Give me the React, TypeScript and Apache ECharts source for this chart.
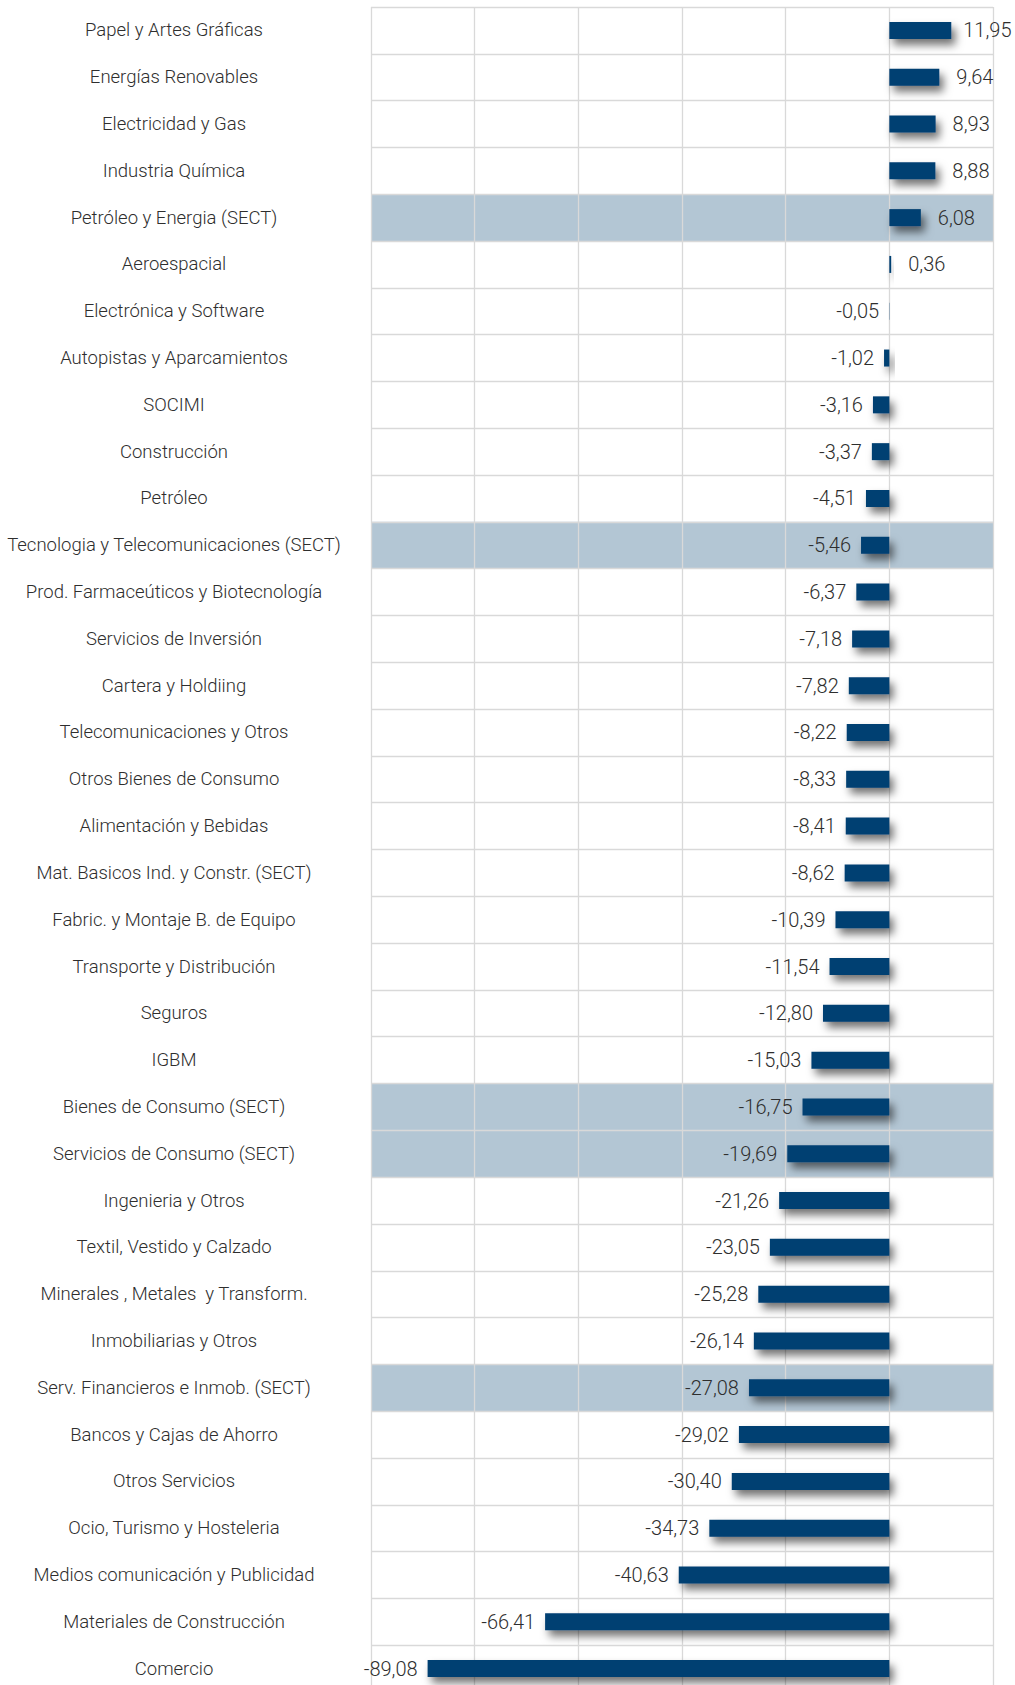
import React, { useEffect, useRef } from "react";
import * as echarts from "echarts";

const categories: string[] = [
  "Papel y Artes Gráficas",
  "Energías Renovables",
  "Electricidad y Gas",
  "Industria Química",
  "Petróleo y Energia (SECT)",
  "Aeroespacial",
  "Electrónica y Software",
  "Autopistas y Aparcamientos",
  "SOCIMI",
  "Construcción",
  "Petróleo",
  "Tecnologia y Telecomunicaciones (SECT)",
  "Prod. Farmaceúticos y Biotecnología",
  "Servicios de Inversión",
  "Cartera y Holdiing",
  "Telecomunicaciones y Otros",
  "Otros Bienes de Consumo",
  "Alimentación y Bebidas",
  "Mat. Basicos Ind. y Constr. (SECT)",
  "Fabric. y Montaje B. de Equipo",
  "Transporte y Distribución",
  "Seguros",
  "IGBM",
  "Bienes de Consumo (SECT)",
  "Servicios de Consumo (SECT)",
  "Ingenieria y Otros",
  "Textil, Vestido y Calzado",
  "Minerales , Metales  y Transform.",
  "Inmobiliarias y Otros",
  "Serv. Financieros e Inmob. (SECT)",
  "Bancos y Cajas de Ahorro",
  "Otros Servicios",
  "Ocio, Turismo y Hosteleria",
  "Medios comunicación y Publicidad",
  "Materiales de Construcción",
  "Comercio",
];

const values: number[] = [
  11.95, 9.64, 8.93, 8.88, 6.08, 0.36, -0.05, -1.02, -3.16, -3.37, -4.51,
  -5.46, -6.37, -7.18, -7.82, -8.22, -8.33, -8.41, -8.62, -10.39, -11.54,
  -12.8, -15.03, -16.75, -19.69, -21.26, -23.05, -25.28, -26.14, -27.08,
  -29.02, -30.4, -34.73, -40.63, -66.41, -89.08,
];

const highlighted: string[] = [
  "Petróleo y Energia (SECT)",
  "Tecnologia y Telecomunicaciones (SECT)",
  "Bienes de Consumo (SECT)",
  "Servicios de Consumo (SECT)",
  "Serv. Financieros e Inmob. (SECT)",
];

const FONT = "Roboto, 'Liberation Sans', sans-serif";

export default function App() {
  const ref = useRef<HTMLDivElement>(null);

  useEffect(() => {
    document.body.style.margin = "0";
    if (!ref.current) return;
    const chart = echarts.init(ref.current, undefined, { renderer: "svg" });
    const gridColor = "#d9d9d9";
    chart.setOption({
      animation: false,
      backgroundColor: "#ffffff",
      grid: {
        left: 371,
        right: 22,
        top: 7,
        height: 1685,
        containLabel: false,
        outerBoundsMode: "none",
      },
      xAxis: {
        type: "value",
        min: -100,
        max: 20,
        interval: 20,
        axisLabel: { show: false },
        axisLine: { show: false },
        axisTick: { show: false },
        splitLine: { show: true, lineStyle: { color: gridColor, width: 1.3 } },
      },
      yAxis: {
        type: "category",
        data: categories,
        inverse: true,
        axisLine: { show: false },
        axisTick: { show: false },
        axisLabel: {
          interval: 0,
          align: "center",
          margin: 197,
          fontFamily: FONT,
          fontWeight: 300,
          fontSize: 18.5,
          color: "#2e2e2e",
        },
        splitLine: {
          show: true,
          interval: 0,
          lineStyle: { color: gridColor, width: 1.3 },
        },
        splitArea: {
          show: true,
          interval: 0,
          areaStyle: {
            color: categories.map((c) =>
              highlighted.includes(c) ? "#b3c6d4" : "rgba(255,255,255,0)"
            ),
          },
        },
      },
      series: [
        {
          type: "bar",
          barWidth: 17,
          data: values.map((v) => ({
            value: v,
            label: {
              position: v < 0 ? "left" : "right",
              distance: v < 0 ? 10 : v >= 10 ? 12 : 17,
            },
          })),
          itemStyle: {
            color: "#003f72",
            shadowBlur: 8,
            shadowColor: "rgba(0,0,0,0.55)",
            shadowOffsetX: 4,
            shadowOffsetY: 6,
          },
          label: {
            show: true,
            fontFamily: FONT,
            fontWeight: 300,
            fontSize: 20,
            color: "#2e2e2e",
            formatter: (p: any) => Number(p.value).toFixed(2).replace(".", ","),
          },
        },
      ],
    });
    return () => chart.dispose();
  }, []);

  return (
    <div
      ref={ref}
      style={{ position: "absolute", left: 0, top: 0, width: 1015, height: 1685 }}
    />
  );
}
